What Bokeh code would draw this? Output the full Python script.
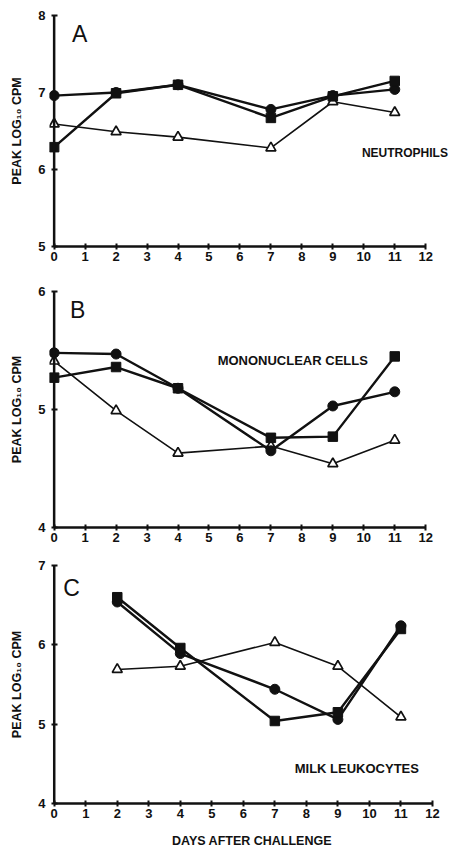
from bokeh.plotting import figure
from bokeh.models import Range1d, Label, FixedTicker, Span
from bokeh.layouts import column
from bokeh.embed import file_html
from bokeh.resources import INLINE

# ---------------- data ----------------
days = [0, 2, 4, 7, 9, 11]
days_c = [2, 4, 7, 9, 11]

a_circle = [6.96, 7.00, 7.10, 6.78, 6.96, 7.04]
a_square = [6.29, 6.99, 7.10, 6.67, 6.95, 7.15]
a_triangle = [6.59, 6.49, 6.42, 6.28, 6.88, 6.74]

b_circle = [5.48, 5.47, 5.18, 4.65, 5.03, 5.15]
b_square = [5.27, 5.36, 5.18, 4.76, 4.77, 5.45]
b_triangle = [5.41, 4.99, 4.63, 4.69, 4.54, 4.74]

c_circle = [6.54, 5.89, 5.44, 5.06, 6.24]
c_square = [6.60, 5.96, 5.04, 5.15, 6.20]
c_triangle = [5.69, 5.73, 6.03, 5.73, 5.09]

x_ticks = list(range(0, 13))
a_yticks = [5, 6, 7, 8]
b_yticks = [4, 5, 6]
c_yticks = [4, 5, 6, 7]

y_title = "PEAK LOG\u2081\u2080 CPM"
x_title = "DAYS AFTER CHALLENGE"

FONT = "Liberation Sans"
INK = "#111111"
X0 = -0.15  # small room left of day 0 so markers on the axis are not clipped


def make_panel(x, circ, sq, tri, yr, yticks, x_end, letter, letter_pos,
               note, note_pos, note_size, fw, fh, left, top, bottom, right,
               x_label=None):
    p = figure(frame_width=fw, frame_height=fh,
               x_range=Range1d(X0, x_end), y_range=Range1d(*yr),
               output_backend="svg", toolbar_location=None,
               min_border_left=left, min_border_top=top,
               min_border_bottom=bottom, min_border_right=right)
    p.outline_line_color = None
    p.xgrid.visible = False
    p.ygrid.visible = False
    p.background_fill_color = "white"
    p.border_fill_color = "white"

    px_per_unit = fw / (x_end - X0)
    gap = -X0 * px_per_unit  # distance frame edge -> x=0

    for ax in (p.xaxis[0], p.yaxis[0]):
        ax.axis_line_width = 2.5
        ax.axis_line_color = INK
        ax.major_tick_line_width = 2
        ax.major_tick_line_color = INK
        ax.minor_tick_line_color = None
        ax.major_label_text_font = FONT
        ax.major_label_text_font_style = "bold"
        ax.major_label_text_font_size = "13px"
        ax.major_label_text_color = INK
        ax.axis_label_text_font = FONT
        ax.axis_label_text_font_style = "bold"
        ax.axis_label_text_font_size = "12.5px"
        ax.axis_label_text_color = INK

    p.xaxis.ticker = FixedTicker(ticks=x_ticks)
    p.xaxis.bounds = (0, 12)
    p.xaxis.major_tick_in = 3
    p.xaxis.major_tick_out = 3
    p.xaxis.major_label_standoff = 2

    p.yaxis.ticker = FixedTicker(ticks=yticks)
    p.yaxis.axis_line_color = None
    p.yaxis.major_tick_in = round(gap + 3)
    p.yaxis.major_tick_out = round(3 - gap)
    p.yaxis.major_label_standoff = 4
    p.yaxis.axis_label = y_title
    p.yaxis.axis_label_standoff = 11
    if x_label:
        p.xaxis.axis_label = x_label
        p.xaxis.axis_label_standoff = 13

    p.add_layout(Span(location=0, dimension="height", line_color=INK,
                      line_width=2.5))

    p.line(x, tri, line_color=INK, line_width=1.6)
    p.line(x, circ, line_color=INK, line_width=2.4)
    p.line(x, sq, line_color=INK, line_width=2.4)
    p.scatter(x, tri, marker="triangle", size=10, fill_color="white",
              line_color=INK, line_width=1.7)
    p.scatter(x, circ, marker="circle", size=10, fill_color=INK, line_color=INK)
    p.scatter(x, sq, marker="square", size=9.5, fill_color=INK, line_color=INK)

    p.add_layout(Label(x=letter_pos[0], y=letter_pos[1], text=letter,
                       text_font=FONT, text_font_size="23px",
                       text_baseline="middle", text_align="left",
                       text_color=INK))
    p.add_layout(Label(x=note_pos[0], y=note_pos[1], text=note,
                       text_font=FONT, text_font_style="bold",
                       text_font_size=note_size, text_baseline="middle",
                       text_align="left", text_color=INK))
    return p


pa = make_panel(days, a_circle, a_square, a_triangle, (5, 8), a_yticks, 12.8,
                "A", (0.58, 7.76), "NEUTROPHILS", (9.94, 6.21), "12px",
                401, 231, 49, 15, 35, 1)
pb = make_panel(days, b_circle, b_square, b_triangle, (4, 6), b_yticks, 12.8,
                "B", (0.51, 5.84), "MONONUCLEAR CELLS", (5.28, 5.415), "13px",
                401, 236, 49, 10, 30, 1)
pc = make_panel(days_c, c_circle, c_square, c_triangle, (4, 7), c_yticks, 12.7,
                "C", (0.29, 6.72), "MILK LEUKOCYTES", (7.63, 4.44), "13px",
                405, 238, 44, 8, 48, 2, x_label=x_title)

layout = column(pa, pb, pc)
open("out.html", "w").write(file_html(layout, INLINE))
